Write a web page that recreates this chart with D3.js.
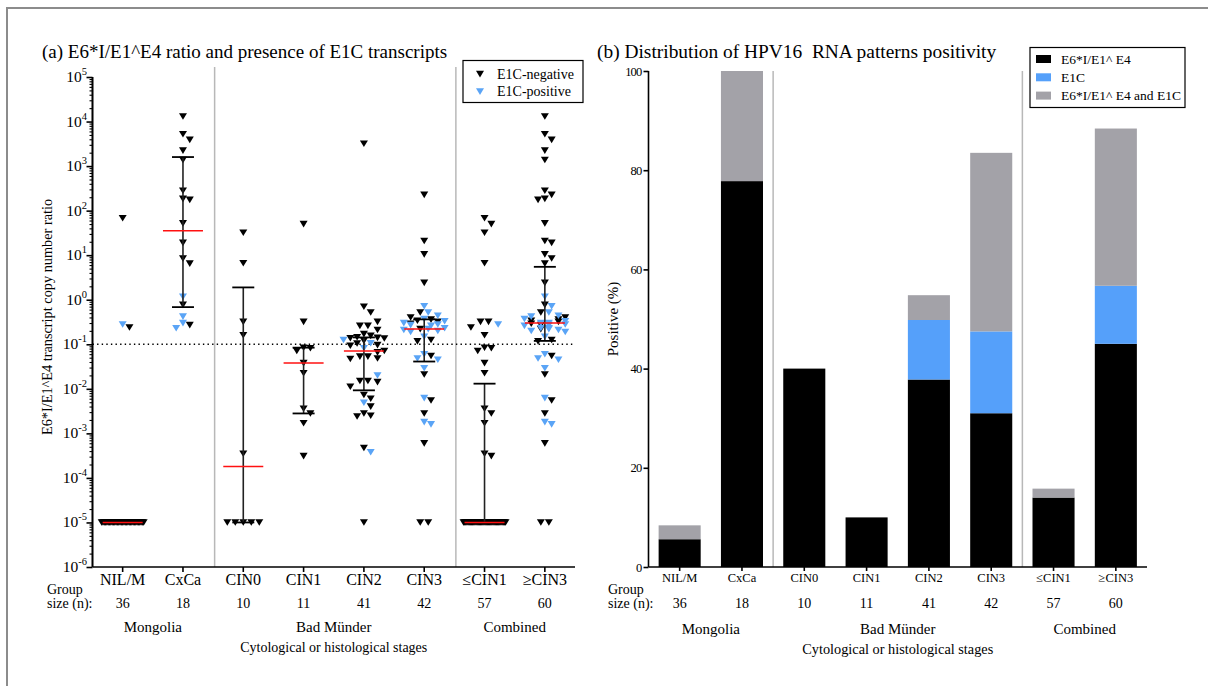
<!DOCTYPE html>
<html><head><meta charset="utf-8">
<script src="https://cdn.jsdelivr.net/npm/d3@7"></script>
<style>
body{margin:0;background:#fff}
</style></head><body>
<svg id="fig" width="1208" height="686"></svg>
<script>
// ---- data ----
const categories = ["NIL/M","CxCa","CIN0","CIN1","CIN2","CIN3","\u2264CIN1","\u2265CIN3"];
const groupSizes = [36,18,10,11,41,42,57,60];
const regionNames = ["Mongolia","Bad M\u00fcnder","Combined"];
const regionFirst = [0,2,6];
const regionLast = [1,5,7];

// E6*I/E1^E4 ratios per sample, split by E1C status
const nilmNeg = [68,0.24,1e-5,1e-5,1e-5,1e-5,1e-5,1e-5,1e-5,1e-5,1e-5,1e-5,1e-5,1e-5,1e-5,1e-5,1e-5,1e-5,1e-5,1e-5,1e-5,1e-5,1e-5,1e-5,1e-5,1e-5,1e-5,1e-5,1e-5,1e-5,1e-5,1e-5,1e-5,1e-5,1e-5];
const nilmPos = [0.28];
const cxcaNeg = [13000,5200,3900,2240,1380,280,185,175,52,19,8.5,6.5,0.77,0.27];
const cxcaPos = [1.17,0.42,0.30,0.23];
const cin0Neg = [32,6.6,0.32,0.16,3.5e-4,1e-5,1e-5,1e-5,1e-5,1e-5];
const cin0Pos = [];
const cin1Neg = [50,0.32,0.084,0.082,0.071,0.038,0.0225,0.0036,0.0028,0.0017,3.1e-4];
const cin1Pos = [];
const cin2Neg = [3200,0.70,0.52,0.32,0.26,0.26,0.21,0.17,0.155,0.145,0.14,0.137,0.135,0.12,0.105,0.096,0.093,0.071,0.066,0.053,0.053,0.048,0.047,0.015,0.015,0.0142,0.0112,0.0073,0.006,0.0040,0.0028,0.0025,0.0024,4.7e-4,1e-5];
const cin2Pos = [0.125,0.106,0.082,0.020,0.0049,3.8e-4];
const cin3Neg = [227,21,10.5,2.4,0.52,0.40,0.36,0.34,0.32,0.29,0.22,0.125,0.117,0.055,0.021,0.0055,0.0028,6e-4,1e-5,1e-5];
const cin3Pos = [0.72,0.52,0.44,0.37,0.33,0.30,0.28,0.27,0.26,0.23,0.22,0.21,0.20,0.19,0.148,0.060,0.048,0.045,0.029,0.0062,0.0018,0.0016];
const cutoff = 0.1;

// RNA pattern positivity (%)
const pctE6E4 = [5.6,77.8,40,10,37.8,31,14,45];
const pctE1C  = [0,0,0,0,12,16.5,0,11.7];
const pctBoth = [2.8,22.2,0,0,5,36,1.8,31.7];
const seriesNames = ["E6*I/E1^ E4","E1C","E6*I/E1^ E4 and E1C"];
const seriesColors = ["#000000","#55a0fa","#a3a2a8"];

const blue = "#5aa4f6";
const FONT = "Liberation Serif";

// groups; combined groups pool the stage groups
const groupNeg = [nilmNeg,cxcaNeg,cin0Neg,cin1Neg,cin2Neg,cin3Neg,
  nilmNeg.concat(cin0Neg,cin1Neg), cxcaNeg.concat(cin3Neg)];
const groupPos = [nilmPos,cxcaPos,cin0Pos,cin1Pos,cin2Pos,cin3Pos,
  nilmPos.concat(cin0Pos,cin1Pos), cxcaPos.concat(cin3Pos)];

const svg = d3.select("#fig");

// frame
svg.append("path").attr("d","M7,686V8H1208").attr("fill","none").attr("stroke","#8c8c8c").attr("stroke-width",2);

// ================= panel (a) =================
const xL = d3.scaleBand().domain(categories).range([92.5,575]);
const yL = d3.scaleLog().domain([1e-6,1e5]).range([567,77]);
const gA = svg.append("g");

gA.append("text").attr("x",42).attr("y",58).attr("font-size",19)
  .text("(a) E6*I/E1^E4 ratio and presence of E1C transcripts");

// group separators
[2,6].forEach(i=>{
  const xs = (xL(categories[i-1])+xL.bandwidth()/2 + xL(categories[i])+xL.bandwidth()/2)/2 + 1.5;
  gA.append("line").attr("x1",xs).attr("x2",xs).attr("y1",67).attr("y2",567)
    .attr("stroke","#b8b8b8").attr("stroke-width",1.5);
});

// cutoff line
gA.append("line").attr("x1",92.5).attr("x2",575).attr("y1",yL(cutoff)).attr("y2",yL(cutoff))
  .attr("stroke","#000").attr("stroke-width",1.6).attr("stroke-dasharray","1.4,3.2");

// y axis with log minor ticks
const majors = d3.range(-6,6).map(e=>Math.pow(10,e));
const minors = [];
for(let e=-6;e<5;e++) for(let m=2;m<10;m++) minors.push(m*Math.pow(10,e));
const yAx = gA.append("g").attr("transform","translate(92.5,0)")
  .call(d3.axisLeft(yL).tickValues(majors).tickSize(6).tickFormat(""));
const yAxMinor = gA.append("g").attr("transform","translate(92.5,0)")
  .call(d3.axisLeft(yL).tickValues(minors).tickSize(3).tickFormat(""));
[yAx,yAxMinor].forEach(g=>{
  g.selectAll("path,line").attr("stroke","#000").attr("stroke-width",1.6);
  g.select(".domain").attr("d","M0,"+yL(1e5)+"V"+yL(1e-6));
});
yAxMinor.selectAll("line").attr("stroke-width",1.1);
majors.forEach(v=>{
  const e = Math.round(Math.log10(v));
  const t = gA.append("text").attr("x",87).attr("y",yL(v)+5).attr("text-anchor","end").attr("font-size",15.5);
  t.append("tspan").text("10");
  t.append("tspan").attr("font-size",10.5).attr("dy",-7).text(e<0 ? "-"+(-e) : String(e));
});

// x axis
const xAx = gA.append("g").attr("transform","translate(0,567)")
  .call(d3.axisBottom(xL).tickSize(5).tickFormat(""));
xAx.selectAll("path,line").attr("stroke","#000").attr("stroke-width",1.6);
xAx.select(".domain").attr("d","M92.5,0H575");

gA.append("text").attr("transform","translate(52,317) rotate(-90)").attr("text-anchor","middle")
  .attr("font-size",14.3).text("E6*I/E1^E4 transcript copy number ratio");

// beeswarm layout: ties share a row, the rest avoid overlap
function swarm(neg,pos,cx){
  const pts = neg.map(v=>({v,pos:false})).concat(pos.map(v=>({v,pos:true})));
  pts.forEach(p=>{p.py = yL(p.v);});
  const step = 6.8, dyMin = 6, maxHalf = 21;
  const placed = [];
  d3.group(pts,p=>p.v).forEach(list=>{
    if(list.length>1){
      const n = list.length, sp = Math.min(8, 2*maxHalf/(n-1));
      list.forEach((p,i)=>{p.dx = (i-(n-1)/2)*sp; placed.push(p);});
    }
  });
  const offsets = [0];
  for(let k=1;k<=3;k++){offsets.push(k*step,-k*step);}
  offsets.push(step/2,-step/2,1.5*step,-1.5*step,2.5*step,-2.5*step);
  pts.filter(p=>p.dx===undefined).sort((a,b)=>a.py-b.py).forEach(p=>{
    let best = 0, bestHits = Infinity;
    for(const dx of offsets){
      const hits = placed.filter(q=>Math.abs(q.py-p.py)<dyMin && Math.abs(q.dx-dx)<step*0.95).length;
      if(hits<bestHits){bestHits = hits; best = dx;}
      if(hits===0) break;
    }
    p.dx = best;
    placed.push(p);
  });
  pts.forEach(p=>{p.px = cx + p.dx;});
  return pts;
}

// quartiles, (n+1)p convention
function quant(sorted,p){
  const n = sorted.length, h = (n+1)*p;
  if(h<=1) return sorted[0];
  if(h>=n) return sorted[n-1];
  const lo = Math.floor(h);
  return sorted[lo-1] + (h-lo)*(sorted[lo]-sorted[lo-1]);
}

const tri = "M-4,-3.2L4,-3.2L0,3.4Z";
categories.forEach((c,i)=>{
  const cx = xL(c)+xL.bandwidth()/2;
  const pts = swarm(groupNeg[i],groupPos[i],cx);
  gA.append("g").selectAll("path").data(pts).join("path")
    .attr("d",tri).attr("transform",d=>`translate(${d.px},${d.py})`)
    .attr("fill",d=>d.pos?blue:"#000");
  const sorted = pts.map(p=>p.v).sort(d3.ascending);
  const q1 = quant(sorted,0.25), med = quant(sorted,0.5), q3 = quant(sorted,0.75);
  if(q3>q1){
    gA.append("line").attr("x1",cx).attr("x2",cx).attr("y1",yL(q1)).attr("y2",yL(q3))
      .attr("stroke","#222").attr("stroke-width",1.6);
    [q1,q3].forEach(q=>gA.append("line").attr("x1",cx-11).attr("x2",cx+11)
      .attr("y1",yL(q)).attr("y2",yL(q)).attr("stroke","#000").attr("stroke-width",1.8));
  }
  gA.append("line").attr("x1",cx-20).attr("x2",cx+20).attr("y1",yL(med)).attr("y2",yL(med))
    .attr("stroke","#ff1010").attr("stroke-width",1.5);
});

// legend (a)
const lgA = gA.append("g");
lgA.append("rect").attr("x",463).attr("y",60.5).attr("width",120).attr("height",42)
  .attr("fill","#fff").attr("stroke","#000").attr("stroke-width",1.2);
[["E1C-negative","#000"],["E1C-positive",blue]].forEach((d,k)=>{
  lgA.append("path").attr("d",tri).attr("fill",d[1]).attr("transform",`translate(480,${74+k*17.5})`);
  lgA.append("text").attr("x",497).attr("y",78.5+k*17.5).attr("font-size",14).text(d[0]);
});

// bottom labels
function bottomLabels(g,x,opt){
  categories.forEach((c,i)=>{
    const cx = x(c)+x.bandwidth()/2;
    g.append("text").attr("x",cx).attr("y",opt.catY).attr("text-anchor","middle")
      .attr("font-size",opt.catSize).text(c);
    g.append("text").attr("x",cx).attr("y",opt.nY).attr("text-anchor","middle")
      .attr("font-size",opt.nSize).text(groupSizes[i]);
  });
  g.append("text").attr("x",opt.gx).attr("y",opt.nY-14).attr("font-size",opt.nSize).text("Group");
  g.append("text").attr("x",opt.gx).attr("y",opt.nY).attr("font-size",opt.nSize).text("size (n):");
  regionNames.forEach((r,k)=>{
    const a = x(categories[regionFirst[k]])+x.bandwidth()/2;
    const b = x(categories[regionLast[k]])+x.bandwidth()/2;
    g.append("text").attr("x",(a+b)/2).attr("y",opt.regY).attr("text-anchor","middle")
      .attr("font-size",opt.regSize).text(r);
  });
  const a0 = x(categories[0])+x.bandwidth()/2, a1 = x(categories[7])+x.bandwidth()/2;
  g.append("text").attr("x",(a0+a1)/2).attr("y",opt.regY+20).attr("text-anchor","middle")
    .attr("font-size",opt.stageSize).text("Cytological or histological stages");
}
bottomLabels(gA,xL,{catY:585,catSize:16,nY:608,nSize:14,gx:47,regY:632,regSize:15,stageSize:14});

// ================= panel (b) =================
const xR = d3.scaleBand().domain(categories).range([648.5,1147]).paddingInner(0.325).paddingOuter(0.1625);
const yR = d3.scaleLinear().domain([0,100]).range([567,71]);
const gB = svg.append("g");

gB.append("text").attr("x",597).attr("y",58).attr("font-size",19.4)
  .text("(b) Distribution of HPV16\u00a0 RNA patterns positivity");

[2,6].forEach(i=>{
  const xs = xR(categories[i]) - xR.step()*xR.paddingInner()/2;
  gB.append("line").attr("x1",xs).attr("x2",xs).attr("y1",71).attr("y2",567)
    .attr("stroke","#b8b8b8").attr("stroke-width",1.5);
});

const table = categories.map((c,i)=>({cat:c,s0:pctE6E4[i],s1:pctE1C[i],s2:pctBoth[i]}));
const stacked = d3.stack().keys(["s0","s1","s2"])(table);
gB.append("g").selectAll("g").data(stacked).join("g").attr("fill",(d,k)=>seriesColors[k])
  .selectAll("rect").data(d=>d).join("rect")
  .attr("x",d=>xR(d.data.cat)).attr("width",xR.bandwidth())
  .attr("y",d=>yR(d[1])).attr("height",d=>yR(d[0])-yR(d[1]));

const yAxR = gB.append("g").attr("transform","translate(648.5,0)")
  .call(d3.axisLeft(yR).tickValues([0,20,40,60,80,100]).tickSize(5).tickPadding(2));
yAxR.selectAll("path,line").attr("stroke","#000").attr("stroke-width",1.6);
yAxR.select(".domain").attr("d","M0,71V567");
yAxR.selectAll("text").attr("font-size",12.5).attr("letter-spacing",-0.8);

const xAxR = gB.append("g").attr("transform","translate(0,567)")
  .call(d3.axisBottom(xR).tickSize(4).tickFormat(""));
xAxR.selectAll("path,line").attr("stroke","#000").attr("stroke-width",1.6);
xAxR.select(".domain").attr("d","M648.5,0H1147");

gB.append("text").attr("transform","translate(618,319) rotate(-90)").attr("text-anchor","middle")
  .attr("font-size",15).text("Positive (%)");

// legend (b)
const lgB = gB.append("g");
lgB.append("rect").attr("x",1030).attr("y",47.5).attr("width",155).attr("height",60)
  .attr("fill","#fff").attr("stroke","#000").attr("stroke-width",1.2);
seriesNames.forEach((s,k)=>{
  lgB.append("rect").attr("x",1036).attr("y",55+k*18.3).attr("width",15).attr("height",8).attr("fill",seriesColors[k]);
  lgB.append("text").attr("x",1061).attr("y",63.5+k*18.3).attr("font-size",13.5).text(s);
});

bottomLabels(gB,xR,{catY:582,catSize:12.5,nY:608,nSize:14,gx:608,regY:634,regSize:15,stageSize:14.3});

// serif typeface for every label
svg.selectAll("g").filter(function(){return this.hasAttribute("font-family");}).attr("font-family",FONT);
svg.selectAll("text").attr("font-family",FONT).attr("fill","#000");
</script>
</body></html>
